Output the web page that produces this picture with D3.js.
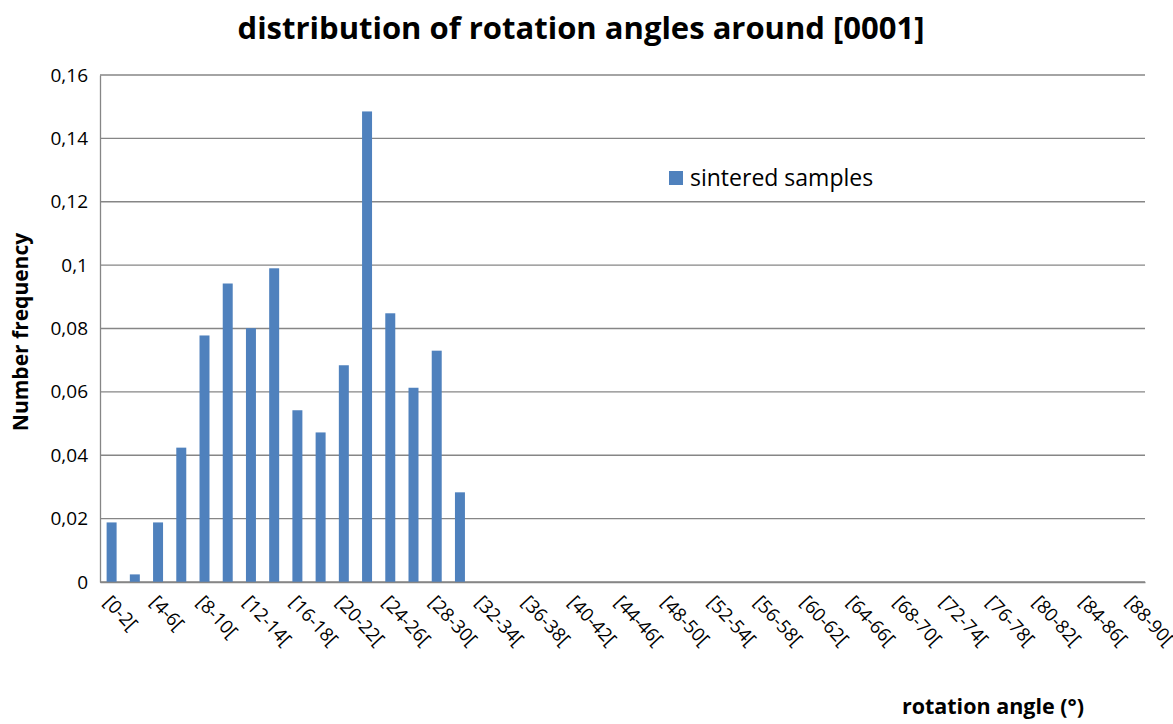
<!DOCTYPE html>
<html>
<head>
<meta charset="utf-8">
<script src="https://cdn.jsdelivr.net/npm/d3@7/dist/d3.min.js"></script>
<style>
  body { margin: 0; background: #fff; }
  svg { display: block; }
  text { font-family: "Open Sans", "Liberation Sans", sans-serif; fill: #000; }
</style>
</head>
<body>
<svg id="chart" width="1173" height="724"></svg>
<script>
// Rotation-angle classes of 2°, from [0-2[ to [88-90[
const categories = [
  "[0-2[", "[2-4[", "[4-6[", "[6-8[", "[8-10[", "[10-12[", "[12-14[", "[14-16[", "[16-18[",
  "[18-20[", "[20-22[", "[22-24[", "[24-26[", "[26-28[", "[28-30[", "[30-32[", "[32-34[",
  "[34-36[", "[36-38[", "[38-40[", "[40-42[", "[42-44[", "[44-46[", "[46-48[", "[48-50[",
  "[50-52[", "[52-54[", "[54-56[", "[56-58[", "[58-60[", "[60-62[", "[62-64[", "[64-66[",
  "[66-68[", "[68-70[", "[70-72[", "[72-74[", "[74-76[", "[76-78[", "[78-80[", "[80-82[",
  "[82-84[", "[84-86[", "[86-88[", "[88-90["
];

// Number frequency of the sintered samples per class
const sinteredSamples = [
  0.0188, 0.0024, 0.0188, 0.0424, 0.0778, 0.0942, 0.0801, 0.0990, 0.0542,
  0.0472, 0.0684, 0.1485, 0.0848, 0.0613, 0.0730, 0.0283, 0, 0, 0, 0, 0, 0, 0, 0,
  0, 0, 0, 0, 0, 0, 0, 0, 0, 0, 0, 0, 0, 0, 0, 0, 0, 0, 0, 0, 0
];

const yTicks = [0, 0.02, 0.04, 0.06, 0.08, 0.10, 0.12, 0.14, 0.16];
// Only every other class gets a label on the category axis
const xTickLabels = categories.filter((d, i) => i % 2 === 0);

const seriesName = "sintered samples";
const title = "distribution of rotation angles around [0001]";
const yTitle = "Number frequency";
const xTitle = "rotation angle (°)";

const plot = { left: 100, right: 1145, top: 75, bottom: 582 };
const barColor = "#4F81BD";
const gridColor = "#868686";
const font = "'Open Sans', 'Liberation Sans', sans-serif";

const svg = d3.select("#chart");

const x = d3.scaleBand()
  .domain(categories)
  .range([plot.left, plot.right])
  .paddingInner(0.57)
  .paddingOuter(0.285);

const y = d3.scaleLinear()
  .domain([0, 0.16])
  .range([plot.bottom, plot.top]);

const fmt = v => d3.format("~g")(+v.toFixed(2)).replace(".", ",");

// Horizontal gridlines
svg.append("g")
  .selectAll("line")
  .data(yTicks)
  .join("line")
  .attr("x1", plot.left).attr("x2", plot.right)
  .attr("y1", d => y(d)).attr("y2", d => y(d))
  .attr("stroke", gridColor)
  .attr("stroke-width", 1.3);

// Y axis
const yAxis = svg.append("g")
  .attr("transform", `translate(${plot.left},0)`)
  .call(d3.axisLeft(y).tickValues(yTicks).tickFormat(fmt).tickSize(0).tickPadding(12));
yAxis.select(".domain").attr("stroke", gridColor).attr("stroke-width", 1.3);
yAxis.selectAll("text")
  .style("font-size", "19px")
  .style("font-family", font)
  .attr("fill", "#000");

// Bars
svg.append("g")
  .selectAll("rect")
  .data(categories.map((c, i) => ({ c, v: sinteredSamples[i] })).filter(d => d.v > 0))
  .join("rect")
  .attr("x", d => x(d.c))
  .attr("y", d => y(d.v))
  .attr("width", x.bandwidth())
  .attr("height", d => y(0) - y(d.v))
  .attr("fill", barColor);

// X axis
const xAxis = svg.append("g")
  .attr("transform", `translate(0,${plot.bottom})`)
  .call(d3.axisBottom(x).tickValues(xTickLabels).tickSize(0).tickPadding(0));
xAxis.select(".domain").attr("stroke", gridColor).attr("stroke-width", 1.3);
xAxis.selectAll("text")
  .style("font-size", "18.5px")
  .style("font-family", font)
  .attr("fill", "#000")
  .attr("text-anchor", "start")
  .attr("dy", "0")
  .attr("transform", "translate(-9,21) rotate(47)");

// Titles
svg.append("text")
  .attr("x", 581).attr("y", 39)
  .attr("text-anchor", "middle")
  .style("font-size", "31px").style("font-weight", "bold")
  .text(title);

svg.append("text")
  .attr("transform", "translate(28,332) rotate(-90)")
  .attr("text-anchor", "middle")
  .style("font-size", "21px").style("font-weight", "bold")
  .text(yTitle);

svg.append("text")
  .attr("x", 993).attr("y", 714)
  .attr("text-anchor", "middle")
  .style("font-size", "21.5px").style("font-weight", "bold")
  .text(xTitle);

// Legend
const legend = svg.append("g").attr("transform", "translate(669,171)");
legend.append("rect").attr("width", 14).attr("height", 14).attr("fill", barColor);
legend.append("text").attr("x", 21).attr("y", 15)
  .style("font-size", "23px")
  .text(seriesName);
</script>
</body>
</html>
